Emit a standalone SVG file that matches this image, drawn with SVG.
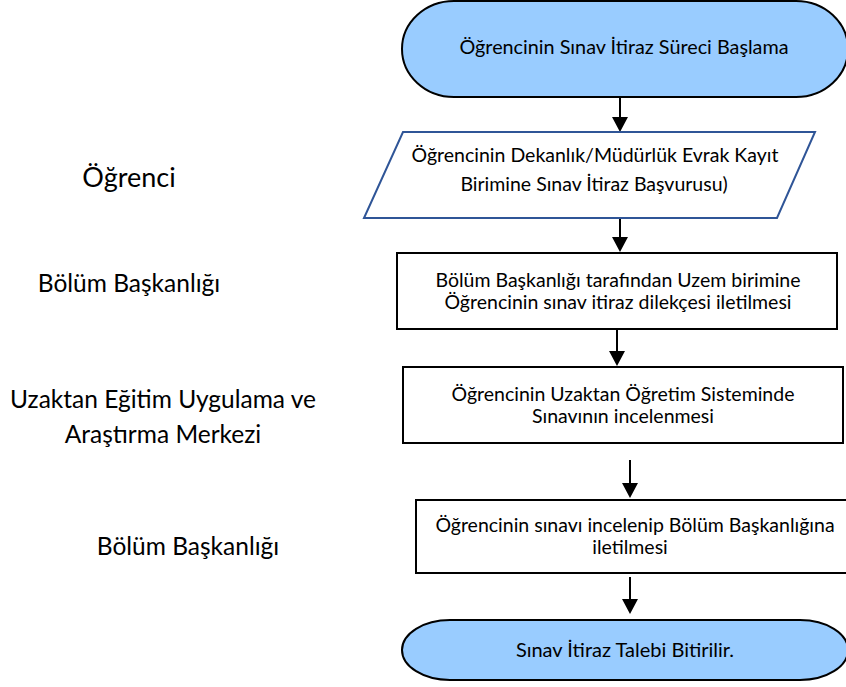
<svg xmlns="http://www.w3.org/2000/svg" width="846" height="687" viewBox="0 0 846 687">
<defs>
<style>
.t{font-family:Lato,"Open Sans","DejaVu Sans",sans-serif;fill:#000;text-anchor:middle}
.s{font-size:19.5px}
.l{font-size:24.5px}
.term{fill:#99CCFF;stroke:#000;stroke-width:2}
.box{fill:#fff;stroke:#000;stroke-width:2}
.io{fill:#fff;stroke:#2F5597;stroke-width:2}
.c{stroke:#000;stroke-width:2;fill:none}
</style>
</defs>
<rect width="846" height="687" fill="#fff"/>
<g id="lanes">
<text class="t" x="129" y="187" style="font-size:27px">Öğrenci</text>
<text class="t l" x="129" y="292">Bölüm Başkanlığı</text>
<text class="t l" x="163" y="408">Uzaktan Eğitim Uygulama ve</text>
<text class="t l" x="163" y="443">Araştırma Merkezi</text>
<text class="t l" x="188" y="555">Bölüm Başkanlığı</text>
</g>
<g id="connectors">
<path class="c" d="M620,97 V118"/><path d="M612,117 L628,117 L620,132 z"/>
<path class="c" d="M620,218 V238"/><path d="M612,237 L628,237 L620,252 z"/>
<path class="c" d="M617,329 V352"/><path d="M609,351 L625,351 L617,366 z"/>
<path class="c" d="M630,460 V484"/><path d="M622,483 L638,483 L630,498 z"/>
<path class="c" d="M630,577 V600"/><path d="M622,599 L638,599 L630,614 z"/>
</g>
<g id="start">
<rect class="term" x="402" y="1" width="446" height="96" rx="52" ry="48"/>
<text class="t" x="624" y="54" style="font-size:19.8px">Öğrencinin Sınav İtiraz Süreci Başlama</text>
</g>
<g id="basvuru">
<path class="io" d="M403,132 L815,132 L777,218 L364,218 z"/>
<text class="t s" x="595" y="162">Öğrencinin Dekanlık/Müdürlük Evrak Kayıt</text>
<text class="t s" x="594" y="191">Birimine Sınav İtiraz Başvurusu)</text>
</g>
<g id="bolum1">
<rect class="box" x="397" y="253" width="440" height="76"/>
<text class="t s" x="618" y="287">Bölüm Başkanlığı tarafından Uzem birimine</text>
<text class="t s" x="618" y="309">Öğrencinin sınav itiraz dilekçesi iletilmesi</text>
</g>
<g id="uzem">
<rect class="box" x="403" y="367" width="440" height="76"/>
<text class="t s" x="623" y="401">Öğrencinin Uzaktan Öğretim Sisteminde</text>
<text class="t s" x="623" y="423">Sınavının incelenmesi</text>
</g>
<g id="inceleme">
<rect class="box" x="416" y="500" width="434" height="73"/>
<text class="t s" x="635" y="532">Öğrencinin sınavı incelenip Bölüm Başkanlığına</text>
<text class="t s" x="630" y="554">iletilmesi</text>
</g>
<g id="end">
<rect class="term" x="402" y="620" width="446" height="60" rx="48" ry="30"/>
<text class="t" x="625" y="657" style="font-size:20px">Sınav İtiraz Talebi Bitirilir.</text>
</g>
</svg>
